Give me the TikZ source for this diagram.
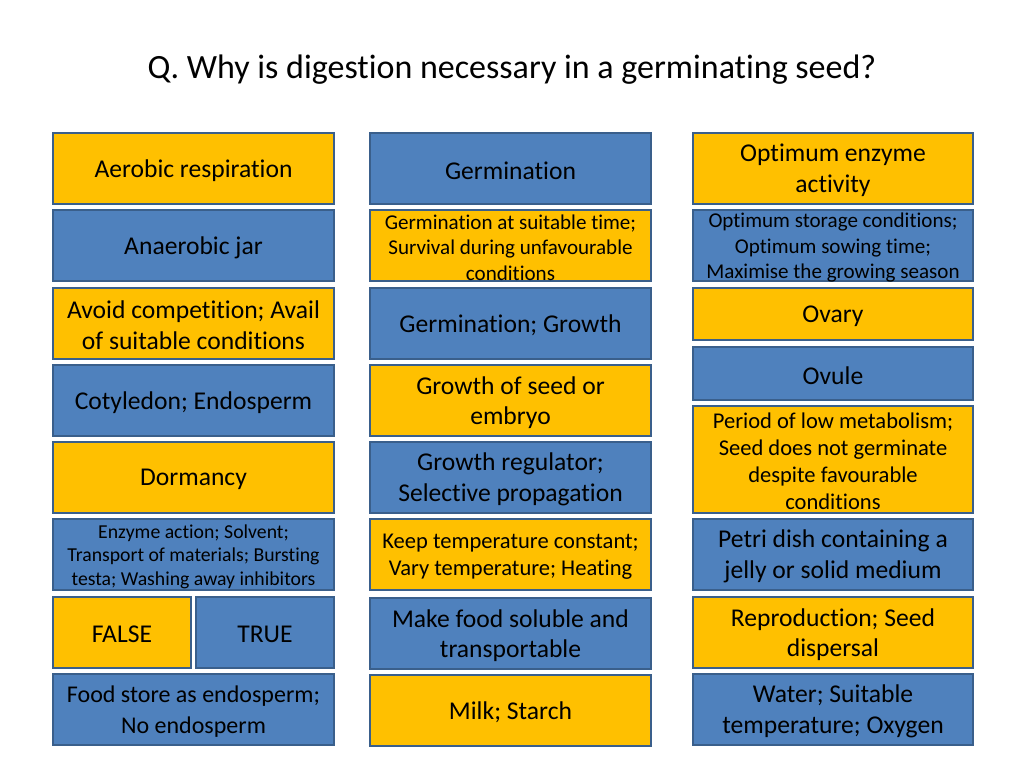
\documentclass[tikz,border=0pt]{standalone}
\usepackage{fontspec}
\setmainfont{Carlito}[RawFeature={-liga;-clig;-calt;-dlig;-rlig}]
\definecolor{goldc}{HTML}{FFC000}
\definecolor{bluec}{HTML}{4F81BD}
\definecolor{edgec}{HTML}{3A5F8B}
\tikzset{
  cell/.style={draw=edgec, line width=1.5pt, inner sep=0pt},
  gbox/.style={cell, fill=goldc},
  bbox/.style={cell, fill=bluec},
  txt/.style={align=center, inner sep=0pt, text=black},
  big/.style={font=\fontsize{19.2}{23.2}\selectfont},
  bigm/.style={font=\fontsize{18}{23}\selectfont},
  med/.style={font=\fontsize{16.9}{20.2}\selectfont},
  sml/.style={font=\fontsize{15.8}{19}\selectfont},
  tiny/.style={font=\fontsize{14.8}{17.6}\selectfont},
}
% #1 name, #2 box style, #3 text style, #4-#7 x1 y1 x2 y2 (px), #8 text
\newcommand{\bx}[8]{%
  \node[#2, minimum width={(#6-#4)*0.75pt-1.5pt}, minimum height={(#7-#5)*0.75pt-1.5pt}] (#1) at ({(#4+#6)/2},{(#5+#7)/2}) {};
  \node[txt,#3] (#1-t) at ([yshift=-1.6pt]#1.center) {#8};}
\begin{document}
\begin{tikzpicture}[x=0.75pt,y=-0.75pt]
\useasboundingbox (0,0) rectangle (1024,768);
\fill[white] (0,0) rectangle (1024,768);
\node[font=\fontsize{25.5}{30}\selectfont] (title) at (512,69.5) {Q. Why is digestion necessary in a germinating seed?};
% column 1
\bx{a1}{gbox}{big}{52}{132}{335}{205}{Aerobic respiration}
\bx{a2}{bbox}{big}{52}{209}{335}{282}{Anaerobic jar}
\bx{a3}{gbox}{big}{52}{287}{335}{360}{Avoid competition; Avail\\of suitable conditions}
\bx{a4}{bbox}{big}{52}{364}{335}{437}{Cotyledon; Endosperm}
\bx{a5}{gbox}{big}{52}{441}{335}{514}{Dormancy}
\bx{a6}{bbox}{tiny}{52}{518}{335}{591}{Enzyme action; Solvent;\\Transport of materials; Bursting\\testa; Washing away inhibitors}
\bx{a7}{gbox}{big}{52}{596}{192}{669}{FALSE}
\bx{a7b}{bbox}{big}{195}{596}{335}{669}{TRUE}
\bx{a8}{bbox}{bigm}{52}{673}{335}{746}{Food store as endosperm;\\No endosperm}
% column 2
\bx{b1}{bbox}{big}{369}{132}{652}{205}{Germination}
\bx{b2}{gbox}{sml}{369}{209}{652}{282}{Germination at suitable time;\\Survival during unfavourable\\conditions}
\bx{b3}{bbox}{big}{369}{287}{652}{360}{Germination; Growth}
\bx{b4}{gbox}{big}{369}{364}{652}{437}{Growth of seed or\\embryo}
\bx{b5}{bbox}{big}{369}{441}{652}{514}{Growth regulator;\\Selective propagation}
\bx{b6}{gbox}{med}{369}{518}{652}{591}{Keep temperature constant;\\Vary temperature; Heating}
\bx{b7}{bbox}{big}{369}{597}{652}{670}{Make food soluble and\\transportable}
\bx{b8}{gbox}{big}{369}{674}{652}{747}{Milk; Starch}
% column 3
\bx{c1}{gbox}{big}{692}{132}{974}{205}{Optimum enzyme\\activity}
\bx{c2}{bbox}{sml}{692}{209}{974}{282}{Optimum storage conditions;\\Optimum sowing time;\\Maximise the growing season}
\bx{c3}{gbox}{big}{692}{287}{974}{341}{Ovary}
\bx{c4}{bbox}{big}{692}{346}{974}{401}{Ovule}
\bx{c5}{gbox}{med}{692}{405}{974}{514}{Period of low metabolism;\\Seed does not germinate\\despite favourable\\conditions}
\bx{c6}{bbox}{big}{692}{518}{974}{591}{Petri dish containing a\\jelly or solid medium}
\bx{c7}{gbox}{big}{692}{596}{974}{669}{Reproduction; Seed\\dispersal}
\bx{c8}{bbox}{big}{692}{673}{974}{746}{Water; Suitable\\temperature; Oxygen}
\end{tikzpicture}
\end{document}
